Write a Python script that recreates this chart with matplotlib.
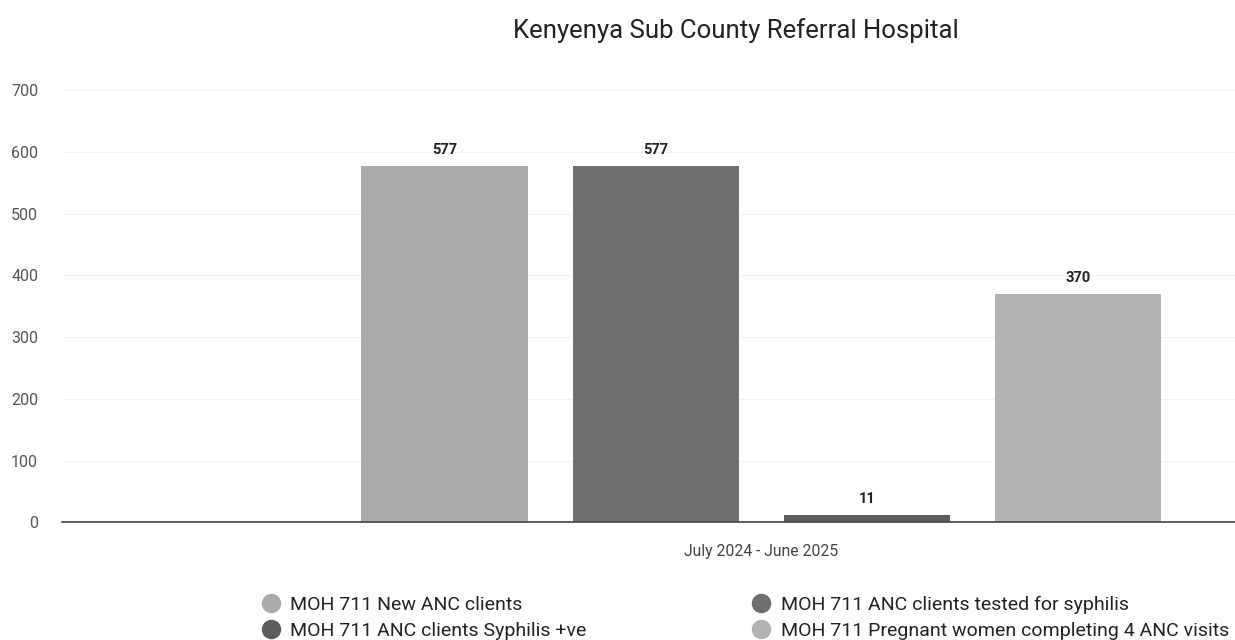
import matplotlib.pyplot as plt

plt.rcParams['font.family'] = ['Roboto', 'DejaVu Sans']

category = 'July 2024 - June 2025'
series = ['MOH 711 New ANC clients',
          'MOH 711 ANC clients tested for syphilis',
          'MOH 711 ANC clients Syphilis +ve',
          'MOH 711 Pregnant women completing 4 ANC visits']
values = [577, 577, 11, 370]
colors = ['#ababab', '#6f6f6f', '#5c5c5c', '#b3b3b3']
yticks = [0, 100, 200, 300, 400, 500, 600, 700]

fig = plt.figure(figsize=(12.35, 6.4), dpi=100)
ax = fig.add_axes([0.050, 0.184, 0.950, 0.675])

offsets = [-1.5, -0.5, 0.5, 1.5]
for off, v, c, name in zip(offsets, values, colors, series):
    ax.bar(off, v, width=0.79, color=c, label=name, zorder=3)
    ax.text(off, v + 15, str(v), ha='center', va='bottom',
            fontsize=10.5, fontweight='bold', color='#222222')

ax.set_xlim(-3.315, 2.244)
ax.set_ylim(0, 700)
ax.set_yticks(yticks)
ax.set_xticks([0])
ax.set_xticklabels([category])
ax.tick_params(axis='x', length=0, pad=16, labelsize=11.3, colors='#444444')
ax.tick_params(axis='y', length=0, pad=17, labelsize=11.5, colors='#555555')
ax.grid(axis='y', color='#f2f2f2', linewidth=0.8, zorder=0)
for s in ['top', 'right', 'left']:
    ax.spines[s].set_visible(False)
ax.spines['bottom'].set_color('#444444')
ax.spines['bottom'].set_linewidth(1.2)
ax.spines['bottom'].set_zorder(4)

fig.text(0.5955, 0.952, 'Kenyenya Sub County Referral Hospital',
         ha='center', va='center', fontsize=18.5, color='#222222')

handles = [plt.Line2D([], [], marker='o', linestyle='', markersize=13,
                      markerfacecolor=c, markeredgecolor=c) for c in colors]
order = [0, 2, 1, 3]
fig.legend([handles[i] for i in order], [series[i] for i in order],
           loc='upper left', bbox_to_anchor=(0.2116, 0.069), ncol=2,
           frameon=False, fontsize=14, columnspacing=8.5,
           handletextpad=0.48, handlelength=1.0, labelspacing=0.42,
           borderpad=0, borderaxespad=0, labelcolor='#222222')

fig.savefig('out.png', dpi=100)
